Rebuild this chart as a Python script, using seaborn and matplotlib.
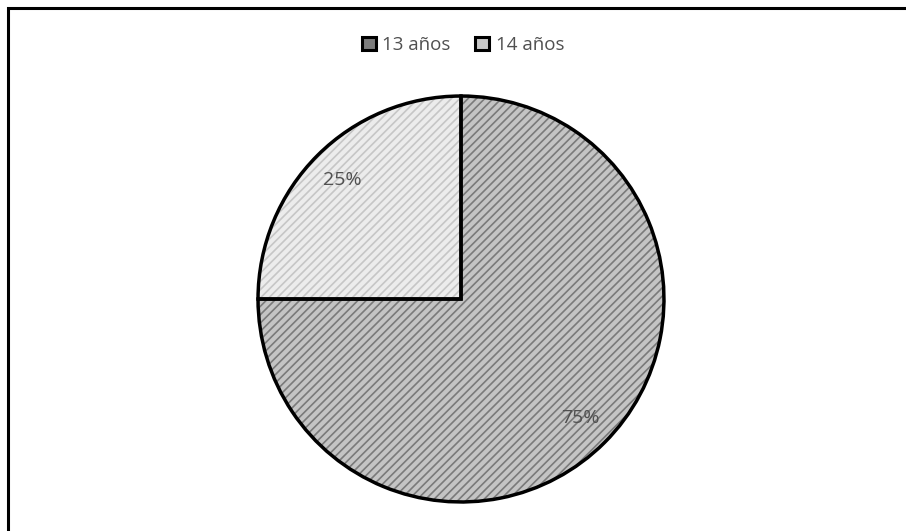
import matplotlib
matplotlib.use("Agg")
import matplotlib.pyplot as plt
import seaborn as sns
from matplotlib.patches import Patch, Rectangle

# pie data
labels = ["13 años", "14 años"]
values = [75, 25]
face_colors = ["#c4c4c4", "#ececec"]
hatch_colors = ["#7a7a7a", "#c6c6c6"]
legend_fill = ["#7c7c7c", "#c8c8c8"]

sns.set_theme(style="white")
plt.rcParams["font.family"] = ["Open Sans", "DejaVu Sans"]
plt.rcParams["hatch.linewidth"] = 1.2

fig = plt.figure(figsize=(9.06, 5.31), dpi=100)
fig.patch.set_facecolor("white")

# outer frame (left and top edges visible)
fig.add_artist(Rectangle((7.5 / 906, -0.05), 1.0, (531 - 7.5) / 531 + 0.05,
                         transform=fig.transFigure, fill=False,
                         edgecolor="black", linewidth=2.2))

ax = fig.add_axes([256 / 906, 27 / 531, 410 / 906, 410 / 531])

# hatched fill layer
wedges, _, autotexts = ax.pie(values, startangle=90, counterclock=False,
                              colors=face_colors, autopct="%1.0f%%",
                              pctdistance=0.83,
                              wedgeprops=dict(linewidth=0),
                              textprops=dict(color="#505050", fontsize=14))
for w, hc in zip(wedges, hatch_colors):
    w.set_hatch("////")
    w.set_edgecolor(hc)
    w.set_linewidth(0)

# black outlines on top
ax.pie(values, startangle=90, counterclock=False,
       colors=["none", "none"],
       wedgeprops=dict(linewidth=2.5, edgecolor="black", facecolor="none"))

ax.set_xlim(-1.01, 1.01)
ax.set_ylim(-1.01, 1.01)
ax.set_aspect("equal")
ax.axis("off")

handles = [Patch(facecolor=c, edgecolor="black", linewidth=2.2) for c in legend_fill]
fig.legend(handles, labels, loc="center", bbox_to_anchor=(463 / 906, 1 - 45 / 531),
           ncol=2, frameon=False, fontsize=13.5, labelcolor="#505050",
           handlelength=0.75, handleheight=0.75, handletextpad=0.35,
           columnspacing=1.3)

fig.savefig("out.png", dpi=100, facecolor="white")
